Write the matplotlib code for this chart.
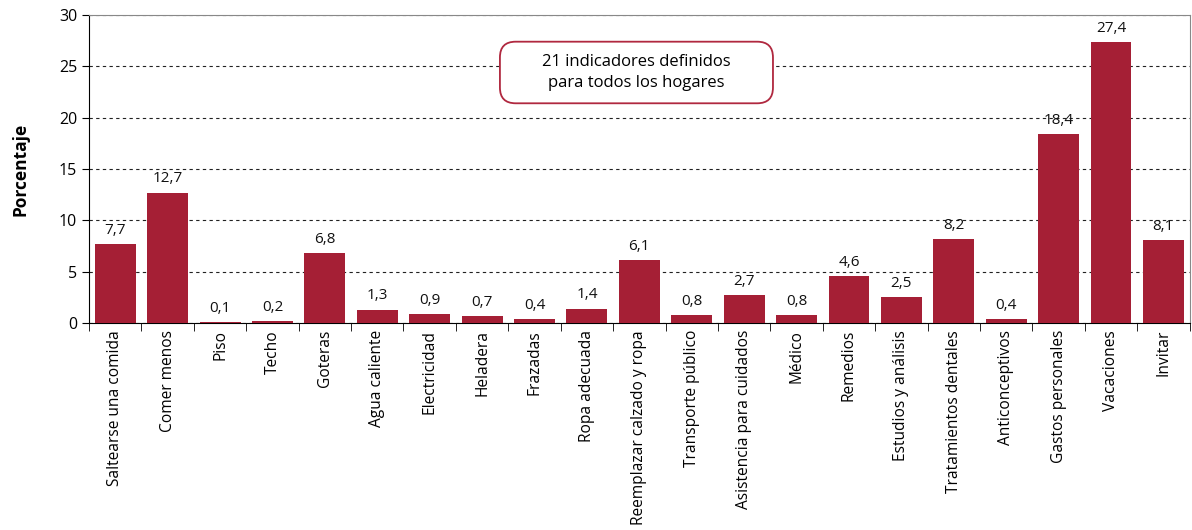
import matplotlib.pyplot as plt
import numpy as np
from matplotlib.patches import FancyBboxPatch

categorias = [
    "Saltearse una comida", "Comer menos", "Piso", "Techo", "Goteras",
    "Agua caliente", "Electricidad", "Heladera", "Frazadas", "Ropa adecuada",
    "Reemplazar calzado y ropa", "Transporte público", "Asistencia para cuidados",
    "Médico", "Remedios", "Estudios y análisis", "Tratamientos dentales",
    "Anticonceptivos", "Gastos personales", "Vacaciones", "Invitar",
]
valores = [7.7, 12.7, 0.1, 0.2, 6.8, 1.3, 0.9, 0.7, 0.4, 1.4, 6.1, 0.8, 2.7,
           0.8, 4.6, 2.5, 8.2, 0.4, 18.4, 27.4, 8.1]
etiquetas_y = [0, 5, 10, 15, 20, 25, 30]

plt.rcParams["font.family"] = ["Open Sans", "DejaVu Sans"]

fig = plt.figure(figsize=(11.92, 5.30), dpi=100)
ax = fig.add_axes([0.0747, 0.3906, 0.9233, 0.5811])

x = np.arange(len(categorias))
ax.bar(x, valores, width=0.78, color="#A51F35", zorder=3)

for xi, v in zip(x, valores):
    ax.text(xi, v + 0.6, f"{v:.1f}".replace(".", ","), ha="center", va="bottom",
            fontsize=11, color="#111111", zorder=4)

ax.set_xlim(-0.5, len(categorias) - 0.5)
ax.set_ylim(0, 30)
ax.set_yticks(etiquetas_y)
ax.tick_params(axis="y", labelsize=11.5, length=5, direction="out")
ax.yaxis.grid(True, linestyle=(0, (3, 3)), color="#222222", linewidth=0.8, zorder=0)

ax.set_xticks(x)
ax.set_xticklabels(categorias, rotation=90, fontsize=11.2)
ax.tick_params(axis="x", length=0, pad=5)
ax.set_xticks(np.arange(-0.5, len(categorias), 1.0), minor=True)
ax.tick_params(axis="x", which="minor", length=6, direction="out", color="black")

ax.set_ylabel("Porcentaje", fontsize=12.5, fontweight="bold", labelpad=21)

for side in ("top", "right"):
    ax.spines[side].set_color("#888888")
ax.spines["left"].set_color("black")
ax.spines["bottom"].set_color("black")

# recuadro con esquinas redondeadas
caja = FancyBboxPatch((7.34, 21.4), 12.55 - 7.34, 27.4 - 21.4,
                      boxstyle="round,pad=0,rounding_size=0.3",
                      mutation_aspect=5.1, facecolor="white",
                      edgecolor="#B0283F", linewidth=1.3, zorder=5)
ax.add_patch(caja)
ax.text(9.95, 24.4, "21 indicadores definidos\npara todos los hogares", ha="center",
        va="center", fontsize=12, linespacing=1.35, zorder=6)

fig.savefig("out.png", dpi=100)
